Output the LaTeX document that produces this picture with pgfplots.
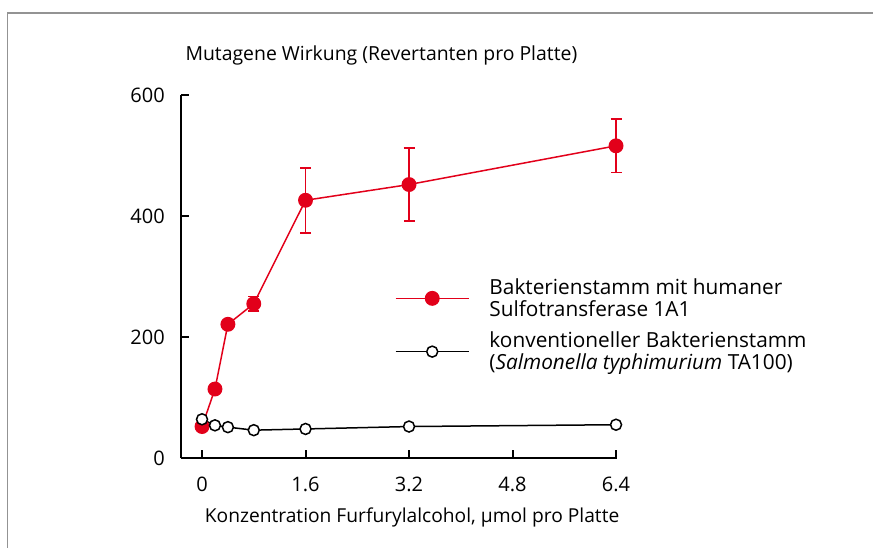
\documentclass[border=0pt]{standalone}
\usepackage{pgfplots}
\pgfplotsset{compat=1.18}
\usepackage{fontspec}
\setmainfont{Open Sans}
\definecolor{myred}{HTML}{E2001A}
\begin{document}
\begin{tikzpicture}
\useasboundingbox (0bp,0bp) rectangle (873bp,548bp);
\draw[gray!85, line width=1.5bp] (873bp,535bp) -- (7.5bp,535bp) -- (7.5bp,0bp);
\begin{axis}[
  at={(181bp,90bp)}, anchor=south west,
  scale only axis, width=436bp, height=363bp,
  xmin=-0.325, xmax=6.415, ymin=0, ymax=600,
  axis lines*=left,
  axis line style={line width=2.2bp, black},
  xtick={0,1.6,3.2,4.8,6.4},
  xticklabels={0,1.6,3.2,4.8,6.4},
  ytick={0,200,400,600},
  tick align=inside,
  major tick length=8bp,
  tick style={line width=2bp, black},
  /pgf/number format/assume math mode=true,
  ticklabel style={font=\fontsize{20bp}{22bp}\selectfont},
  yticklabel style={inner sep=0pt, xshift=-16bp},
  xticklabel style={inner sep=0pt, yshift=-19bp},
  every axis y label/.style={at={(axis description cs:0,1)}, anchor=base west, yshift=35bp, xshift=1bp, font=\fontsize{19.4bp}{22bp}\selectfont},
  every axis x label/.style={at={(axis description cs:0.53,0)}, anchor=base, yshift=-64bp, font=\fontsize{19.2bp}{22bp}\selectfont},
  ylabel={Mutagene Wirkung (Revertanten pro Platte)},
  xlabel={Konzentration Furfurylalcohol, µmol pro Platte},
  legend style={draw=none, fill=none, at={(axis cs:2.98,300)}, anchor=north west,
    font=\fontsize{20.8bp}{22bp}\selectfont, cells={align=left, anchor=west},
    row sep=10bp, inner sep=0pt, column sep=18bp},
  legend image code/.code={\draw[mark repeat=2,mark phase=2,#1] plot coordinates {(0bp,0bp) (36.5bp,0bp) (73bp,0bp)};},
  clip=false,
]
\addplot[myred, line width=1.5bp, mark=*, mark size=6.7bp,
  error bars/.cd, y dir=both, y explicit,
  error bar style={line width=1.8bp, myred},
  error mark options={rotate=90, mark size=5.5bp, line width=1.8bp, myred}]
  table[x=x, y=y, y error=e] {
x y e
0 52 0
0.2 114 0
0.4 221 0
0.8 255 12
1.6 426 54
3.2 452 60
6.4 516 44
};
\addlegendentry{Bakterienstamm mit humaner\\Sulfotransferase 1A1}
\addplot[black, line width=1.5bp, mark=*, mark size=5.5bp, mark options={fill=white, draw=black, line width=1.5bp}]
  table[x=x, y=y] {
x y
0 64
0.2 54
0.4 51
0.8 46
1.6 48
3.2 52
6.4 55
};
\addlegendentry{konventioneller Bakterienstamm\\(\textit{Salmonella typhimurium} TA100)}
\end{axis}
\end{tikzpicture}
\end{document}
